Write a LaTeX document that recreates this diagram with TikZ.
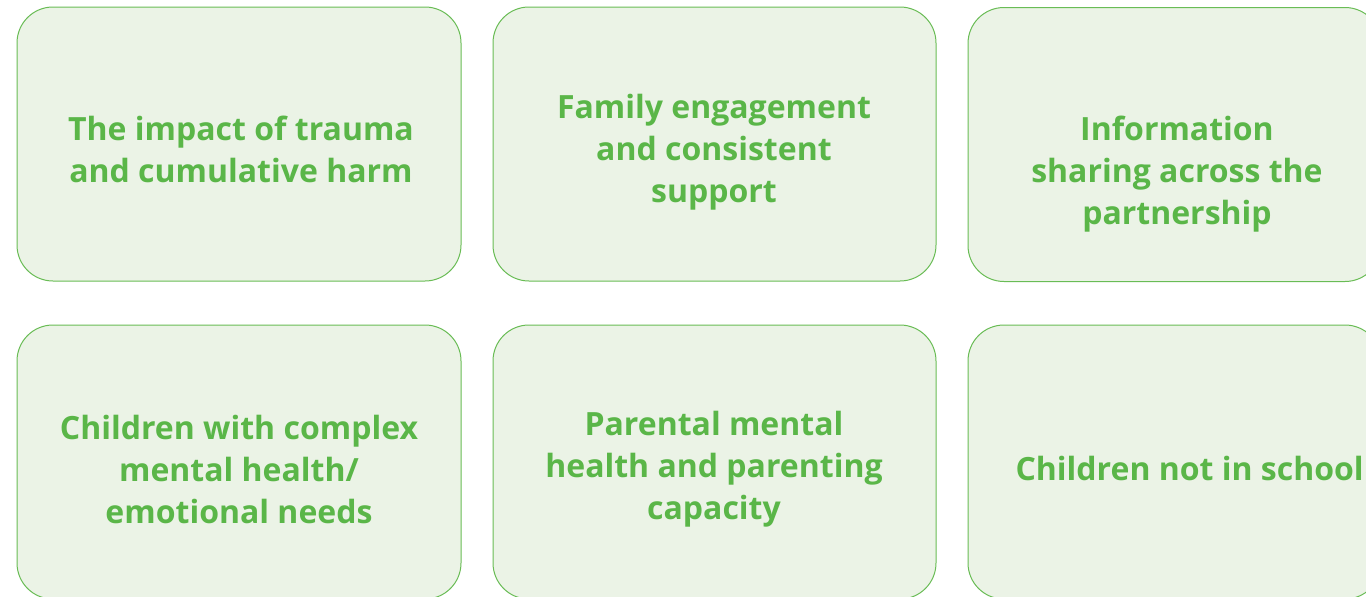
\documentclass[tikz,border=0pt]{standalone}
\usepackage{fontspec}
\setmainfont{Open Sans}
\usetikzlibrary{positioning}
\definecolor{cardfill}{RGB}{235,243,230}
\definecolor{cardline}{RGB}{105,188,85}
\definecolor{cardgreen}{RGB}{90,182,72}
\tikzset{
  card/.style={draw=cardline, fill=cardfill, line width=1pt, rounded corners=36pt, inner sep=0pt},
  cardtext/.style={text=cardgreen, font=\fontsize{32}{42}\selectfont\bfseries, align=center, inner sep=0pt}
}
\begin{document}
\begin{tikzpicture}[x=1pt, y=-1pt]
			%%%%% START %%%%%
			\useasboundingbox (0,0) rectangle (1366,597);
			\clip (0,0) rectangle (1366,597);
			
			% top row
			\node[card, minimum width=444pt, minimum height=274pt] (trauma) at (239,144) {};
			\node[card, minimum width=443pt, minimum height=274pt] (family) at (714.5,144) {};
			\node[card, minimum width=413pt, minimum height=274pt] (sharing) at (1174.5,144.5) {};
			
			% bottom row
			\node[card, minimum width=444pt, minimum height=274pt] (complex) at (239,462) {};
			\node[card, minimum width=443pt, minimum height=274pt] (parental) at (714.5,462) {};
			\node[card, minimum width=413pt, minimum height=274pt] (school) at (1174.5,462) {};
			
			% texts
			\node[cardtext] (traumatxt) at (241,149) {The impact of trauma\\and cumulative harm};
			\node[cardtext] (familytxt) at (714,152.5) {Family engagement\\and consistent\\support};
			\node[cardtext] (sharingtxt) at (1177,174) {Information\\sharing across the\\partnership};
			\node[cardtext] (complextxt) at (239,469) {Children with complex\\mental health/\\emotional needs};
			\node[cardtext] (parentaltxt) at (714,469.5) {Parental mental\\health and parenting\\capacity};
			\node[cardtext, anchor=east] (schooltxt) at (1364,468) {Children not in school};
			
			%%%%% END %%%%%
\end{tikzpicture}
\end{document}
